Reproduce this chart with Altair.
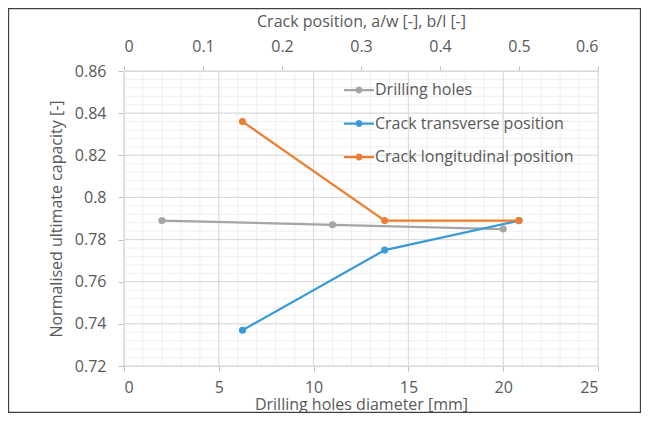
import altair as alt
import pandas as pd

FONT = "Open Sans"
TEXT = "#595959"

series_names = ["Drilling holes", "Crack transverse position", "Crack longitudinal position"]
series_colors = ["#A5A5A5", "#3A9AD9", "#ED7D31"]

drill_diameter = [2, 11, 20]
drill_capacity = [0.789, 0.787, 0.785]

crack_position = [0.15, 0.33, 0.5]
transverse_capacity = [0.737, 0.775, 0.789]
longitudinal_capacity = [0.836, 0.789, 0.789]

x_bottom_ticks = [0, 5, 10, 15, 20, 25]
x_top_ticks = [0, 0.1, 0.2, 0.3, 0.4, 0.5, 0.6]
y_ticks = [0.72, 0.74, 0.76, 0.78, 0.80, 0.82, 0.84, 0.86]
x_minor = list(range(0, 26))
y_minor = [round(0.72 + 0.004 * i, 3) for i in range(36)]

xb = alt.Scale(domain=[0, 25], nice=False, zero=False)
xt = alt.Scale(domain=[0, 0.6], nice=False, zero=False)
ys = alt.Scale(domain=[0.72, 0.86], nice=False, zero=False)

color_scale = alt.Scale(domain=series_names, range=series_colors)

LEGEND_PATH = ("M-1,-0.075H1V0.075H-1Z "
               "M0.23,0A0.23,0.23 0 1,1 -0.23,0A0.23,0.23 0 1,1 0.23,0Z")

legend = alt.Legend(
    title=None, orient="none", legendX=220, legendY=4,
    symbolType=LEGEND_PATH, symbolSize=900, symbolStrokeWidth=0,
    symbolOpacity=1, labelFont=FONT, labelFontSize=16, labelColor=TEXT,
    labelOffset=1, rowPadding=10.5, padding=0, labelLimit=0,
)

axis_common = dict(
    grid=False, domainColor="#BFBFBF", tickColor="#BFBFBF", tickSize=5,
    labelFont=FONT, labelFontSize=16, labelColor=TEXT,
    titleFont=FONT, titleFontSize=16, titleColor=TEXT, titleFontWeight="normal",
)

x_bottom_axis = alt.Axis(
    title="Drilling holes diameter [mm]", values=x_bottom_ticks, format="~g",
    labelPadding=8, titleY=43, titleBaseline="alphabetic", **axis_common)
y_axis = alt.Axis(
    title="Normalised ultimate capacity [-]", values=y_ticks, format="~g",
    labelPadding=12, titlePadding=10, **{**axis_common, "tickSize": 6})
x_top_axis = alt.Axis(
    orient="top", title="Crack position, a/w [-], b/l [-]",
    values=x_top_ticks, format="~g", labelPadding=12, titlePadding=9,
    **axis_common)

def xB(field):
    return alt.X(field, scale=xb, axis=x_bottom_axis)

def xT(field):
    return alt.X(field, scale=xt, axis=x_top_axis)

def yL(field):
    return alt.Y(field, scale=ys, axis=y_axis)

color = alt.Color("series:N", scale=color_scale, legend=legend)

# grid
minor_v = alt.Chart(pd.DataFrame({"d": x_minor})).mark_rule(
    color="#EFEFEF", strokeWidth=1).encode(x=xB("d:Q"))
minor_h = alt.Chart(pd.DataFrame({"cap": y_minor})).mark_rule(
    color="#EFEFEF", strokeWidth=1).encode(y=yL("cap:Q"))
major_v = alt.Chart(pd.DataFrame({"d": x_bottom_ticks})).mark_rule(
    color="#D9D9D9", strokeWidth=1).encode(x=xB("d:Q"))
major_h = alt.Chart(pd.DataFrame({"cap": y_ticks})).mark_rule(
    color="#D9D9D9", strokeWidth=1).encode(y=yL("cap:Q"))

drill_df = pd.DataFrame({"d": drill_diameter, "cap": drill_capacity,
                         "series": [series_names[0]] * len(drill_diameter)})

crack_df = pd.DataFrame({
    "pos": crack_position + crack_position,
    "cap": transverse_capacity + longitudinal_capacity,
    "series": [series_names[1]] * 3 + [series_names[2]] * 3,
})

gray_line = alt.Chart(drill_df).mark_line(strokeWidth=2.25).encode(
    x=xB("d:Q"), y=yL("cap:Q"), color=color)
gray_pts = alt.Chart(drill_df).mark_circle(size=50, opacity=1).encode(
    x=xB("d:Q"), y=yL("cap:Q"), color=color)

crack_line = alt.Chart(crack_df).mark_line(strokeWidth=2.25).encode(
    x=xT("pos:Q"), y=yL("cap:Q"), color=color, order=alt.Order("pos:Q"))
crack_pts = alt.Chart(crack_df).mark_circle(size=50, opacity=1).encode(
    x=xT("pos:Q"), y=yL("cap:Q"), color=color)

border = alt.Chart(pd.DataFrame({"k": [0]})).mark_rect(
    fill=None, stroke="#404040", strokeWidth=1.3).encode(
    x=alt.value(-115.5), x2=alt.value(516.5), y=alt.value(-62.5), y2=alt.value(341.5))

bottom = alt.layer(minor_v, minor_h, major_v, major_h, gray_line, gray_pts)
top = alt.layer(crack_line, crack_pts, border)

chart = alt.layer(bottom, top).resolve_scale(x="independent").properties(
    width=474, height=295,
    autosize=alt.AutoSizeParams(type="none"),
    padding={"left": 116, "top": 63, "right": 43, "bottom": 47},
    background="white",
).configure_view(stroke=None)

chart.save("out.html", embed_options={"renderer": "svg", "actions": False})
